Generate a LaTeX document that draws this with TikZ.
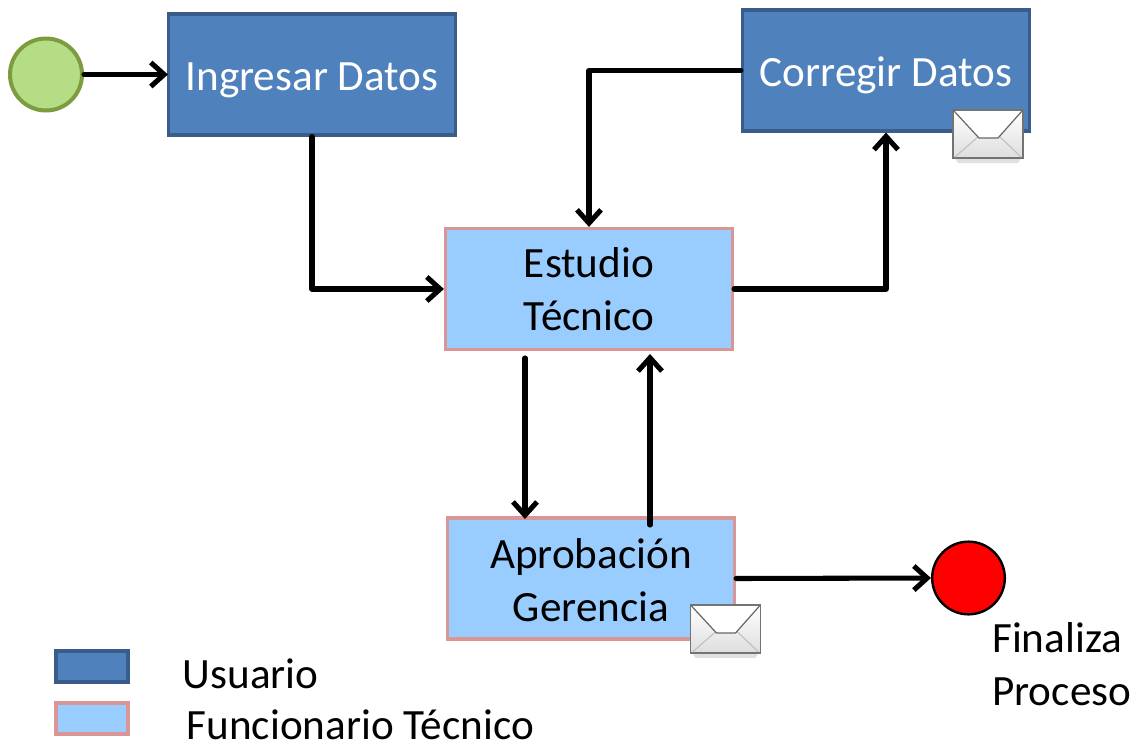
\documentclass[tikz,border=0pt]{standalone}
\usepackage{fontspec}
\setmainfont{Carlito}
\usetikzlibrary{arrows.meta,calc,fadings}
\definecolor{bluefill}{HTML}{4F81BD}
\definecolor{blueline}{HTML}{385D8A}
\definecolor{lightfill}{HTML}{99CCFF}
\definecolor{pinkline}{HTML}{D99694}
\definecolor{greenfill}{HTML}{B5DD86}
\definecolor{greenline}{HTML}{7D9B3F}
\tikzset{
  x=0.75pt,y=-0.75pt,
  darkbox/.style={draw=blueline,fill=bluefill,line width=2.6pt,minimum width=215pt,minimum height=90.5pt,inner sep=0pt,text=white,font=\fontsize{32.4}{39.6}\selectfont,align=center},
  lightbox/.style={draw=pinkline,fill=lightfill,line width=2.6pt,minimum width=215pt,minimum height=90.5pt,inner sep=0pt,text=black,font=\fontsize{32.4}{39.6}\selectfont,align=center},
  legdark/.style={draw=blueline,fill=bluefill,line width=2.6pt,minimum width=54pt,minimum height=23pt,inner sep=0pt},
  leglight/.style={draw=pinkline,fill=lightfill,line width=2.6pt,minimum width=54pt,minimum height=23pt,inner sep=0pt},
  startev/.style={circle,draw=greenline,fill=greenfill,line width=3pt,minimum size=54pt,inner sep=0pt},
  endev/.style={circle,draw=black,fill=red,line width=1.8pt,minimum size=54.5pt,inner sep=0pt},
  label text/.style={font=\fontsize{32.4}{39.6}\selectfont,text=black,inner sep=0pt,align=left},
  flow/.style={draw=black,line width=3.8pt,line cap=round,line join=round,-{Straight Barb[length=10pt,width=18pt,line width=3.8pt]}},
  envbody/.style={draw=black!55,line width=0.9pt,top color=white,bottom color=black!13},
}
\newcommand{\envelope}[2]{%
  \begin{scope}[shift={(#1,#2)}]
    \fill[black!30,opacity=.4] (2,48) -- (68,48) -- (65,53) -- (5,53) -- cycle;
    \draw[envbody] (0,0) rectangle (70,48);
    \draw[black!25,line width=0.8pt] (2,47) -- (26,26) (68,47) -- (46,26);
    \draw[black!60,line width=0.9pt,fill=white] (1,1) -- (26,28) -- (45,28) -- (69,1);
  \end{scope}}
\begin{document}
\begin{tikzpicture}
\useasboundingbox (0,0) rectangle (1133,743);
\node[startev] (inicio) at (46,74.5) {};
\node[darkbox] (ingresar) at (312,74.5) {\raisebox{-4.5pt}[\height][\depth]{Ingresar Datos}};
\node[darkbox] (corregir) at (886,70.5) {\raisebox{-3.75pt}[\height][\depth]{Corregir Datos}};
\node[lightbox] (estudio) at (589,289) {Estudio\\Técnico};
\node[lightbox] (aprobacion) at (591,578.5) {\raisebox{-1pt}[\height][\depth]{Aprobación}\\\raisebox{-1pt}[\height][\depth]{Gerencia}};
\node[endev] (fin) at (968.5,578) {};
\node[legdark] (legu) at (92,666.5) {};
\node[leglight] (legf) at (92,718.5) {};
\node[label text,anchor=west] (tu) at (182.5,674) {Usuario};
\node[label text,anchor=west] (tf) at (186.5,725) {Funcionario Técnico};
\node[label text,anchor=north west] (tfin) at (992,622.5) {Finaliza\\Proceso};
\coordinate (c1) at (ingresar.south |- estudio.west);
\coordinate (c2) at (estudio.north |- corregir.west);
\coordinate (c3) at (corregir.south |- estudio.east);
\coordinate (e1) at (525,358);
\coordinate (e2) at (525,519);
\coordinate (a1) at (650,525);
\coordinate (a2) at (650,354);
\draw[flow] (inicio.east) -- ($(ingresar.west)+(1,0)$);
\draw[flow] (ingresar.south) -- (c1) -- (estudio.west);
\draw[flow] (corregir.west) -- (c2) -- (estudio.north);
\draw[flow] (estudio.east) -- (c3) -- (corregir.south);
\draw[flow] (e1) -- (e2);
\draw[flow] (a1) -- (a2);
\draw[flow] (aprobacion.east) -- (fin.west);
\envelope{953}{110}
\envelope{690.5}{605}
\end{tikzpicture}
\end{document}
